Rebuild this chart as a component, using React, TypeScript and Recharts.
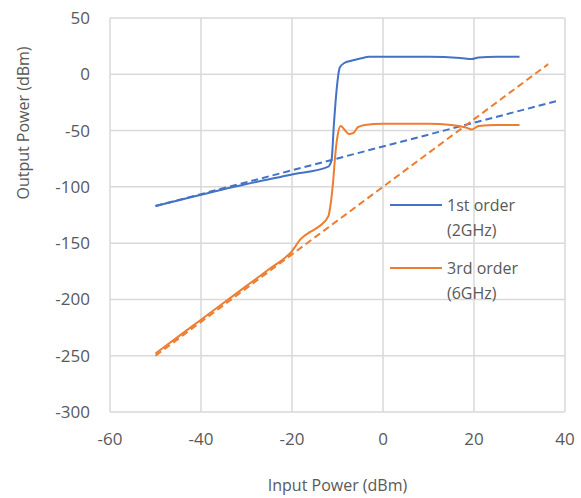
import React from 'react';
import { LineChart, Line, XAxis, YAxis, CartesianGrid, Legend } from 'recharts';

const xTicks = [-60, -40, -20, 0, 20, 40];
const yTicks = [-300, -250, -200, -150, -100, -50, 0, 50];

const firstOrderX = [-50, -40, -30, -20, -12, -11.3, -10.8, -10.2, -9.5, -8.5, -7, -5, -3, 0, 10, 17, 19.5, 21, 25, 30];
const firstOrderY = [-117, -107, -97.5, -89, -82, -76, -45, -14, 6, 10, 12, 14, 15.5, 15.5, 15.5, 14.5, 13.5, 15, 15.5, 15.5];

const thirdOrderX = [-50, -45, -40, -35, -30, -25, -20, -18, -16, -14, -12, -11.5, -11, -10.5, -10, -9.3, -8.5, -7.5, -6.5, -5.5, -4, 0, 5, 10, 15, 18, 19.5, 21, 25, 30];
const thirdOrderY = [-248, -233, -218, -203, -188, -173, -157, -146, -140, -135, -126, -115, -97, -72, -55, -46, -49, -53, -52, -47, -45, -44, -44, -44, -45, -47, -49, -46, -45, -45];

const fit1X = [-50, 38];
const fit1Y = [-117, -24];
const fit3X = [-50, 36.3];
const fit3Y = [-250, 9];

const legendItems = [
  { label: '1st order', sub: '(2GHz)', color: '#4472C4' },
  { label: '3rd order', sub: '(6GHz)', color: '#ED7D31' },
];

const zip = (xs: number[], ys: number[]) => xs.map((x, i) => ({ x, y: ys[i] }));

const FONT = '"Open Sans", sans-serif';
const TXT = '#595959';

const LegendContent = () => (
  <div style={{ fontFamily: FONT, fontSize: 16, color: TXT }}>
    {legendItems.map((it, i) => (
      <div key={i} style={{ display: 'flex', alignItems: 'flex-start', marginBottom: i === 0 ? 13 : 0 }}>
        <div style={{ width: 52, height: 2, background: it.color, marginTop: 11, marginRight: 5 }} />
        <div style={{ lineHeight: '25px' }}>
          <div>{it.label}</div>
          <div>{it.sub}</div>
        </div>
      </div>
    ))}
  </div>
);

const YLabel = (props: any) => {
  const vb = props.viewBox || {};
  const cx = 23;
  const cy = (vb.y || 0) + 105;
  return (
    <text x={cx} y={cy} transform={`rotate(-90 ${cx} ${cy})`} textAnchor="middle" dominantBaseline="central"
      fill={TXT} fontSize={16} fontFamily={FONT}>Output Power (dBm)</text>
  );
};

export default function App() {
  return (
    <div style={{ position: 'absolute', left: 0, top: 0, background: '#fff' }}>
      <LineChart width={581} height={498} margin={{ top: 18, right: 16, left: 0, bottom: 0 }}>
        <CartesianGrid stroke="#d9d9d9" strokeWidth={1.5} />
        <XAxis type="number" dataKey="x" domain={[-60, 40]} ticks={xTicks} allowDataOverflow
          axisLine={false} tickLine={false} tickSize={6} tickMargin={15} height={86}
          tick={{ fill: TXT, fontSize: 17, fontFamily: FONT }}
          label={{ value: 'Input Power (dBm)', position: 'insideBottom', offset: 7, fill: TXT, fontSize: 16, fontFamily: FONT }} />
        <YAxis type="number" dataKey="y" domain={[-300, 50]} ticks={yTicks} allowDataOverflow
          axisLine={false} tickLine={false} tickSize={6} tickMargin={14} width={110}
          tick={{ fill: TXT, fontSize: 17, fontFamily: FONT }}
          label={<YLabel />} />
        <Legend content={<LegendContent />} layout="vertical" verticalAlign="middle" align="center"
          wrapperStyle={{ position: 'absolute', left: 390, top: 193, width: 130 }} />
        <Line data={zip(fit1X, fit1Y)} dataKey="y" stroke="#4472C4" strokeWidth={2} strokeDasharray="7 4" dot={false} isAnimationActive={false} legendType="none" />
        <Line data={zip(fit3X, fit3Y)} dataKey="y" stroke="#ED7D31" strokeWidth={2} strokeDasharray="7 4" dot={false} isAnimationActive={false} legendType="none" />
        <Line data={zip(firstOrderX, firstOrderY)} dataKey="y" type="monotone" stroke="#4472C4" strokeWidth={2} dot={false} isAnimationActive={false} />
        <Line data={zip(thirdOrderX, thirdOrderY)} dataKey="y" type="monotone" stroke="#ED7D31" strokeWidth={2} dot={false} isAnimationActive={false} />
      </LineChart>
    </div>
  );
}
